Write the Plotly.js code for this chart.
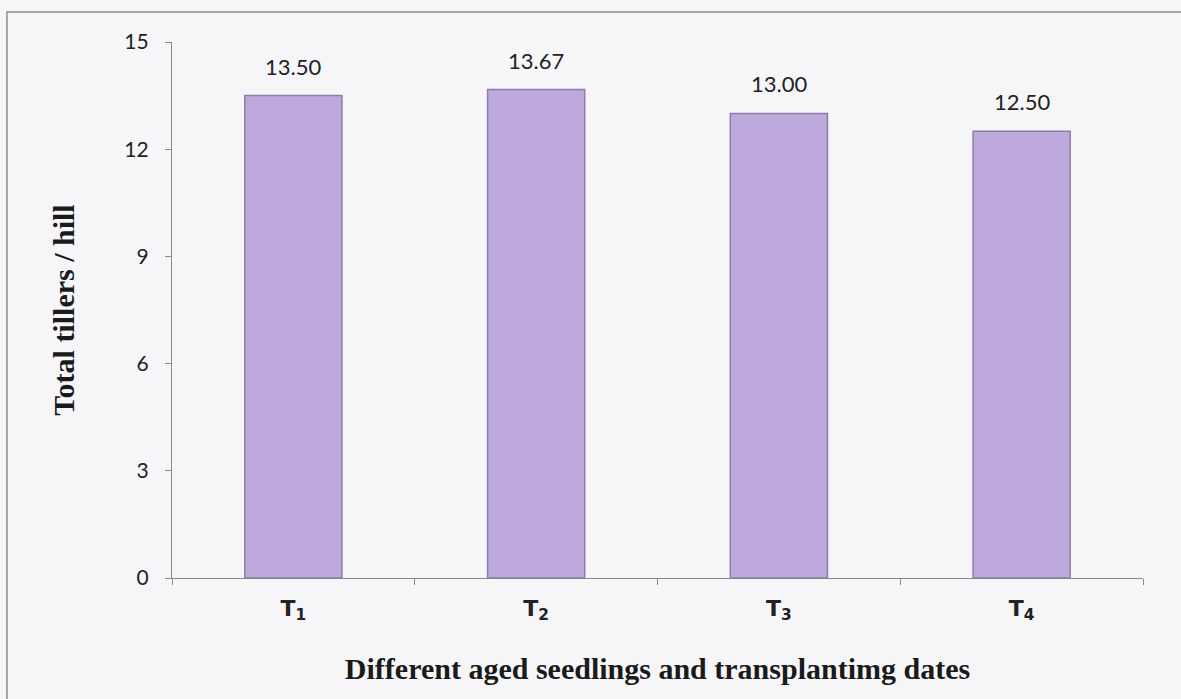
<!DOCTYPE html>
<html>
<head>
<meta charset="utf-8">
<script src="https://cdn.plot.ly/plotly-3.0.1.min.js"></script>
<style>
  html, body { margin: 0; padding: 0; background: #f6f6f9; }
  #chart { width: 1181px; height: 699px; }
</style>
</head>
<body>
<div id="chart"></div>
<script>
// Treatments (seedling age / transplanting date)
const categories = ['T<sub>1</sub>', 'T<sub>2</sub>', 'T<sub>3</sub>', 'T<sub>4</sub>'];
// Total tillers per hill
const tillers = [13.50, 13.67, 13.00, 12.50];
const yTicks = [0, 3, 6, 9, 12, 15];

const trace = {
  type: 'bar',
  x: categories,
  y: tillers,
  width: 0.4,
  marker: {
    color: '#bda9dc',
    line: { color: '#8c7bab', width: 1.5 }
  },
  hoverinfo: 'skip'
};

// value labels sitting above each bar
const valueLabels = categories.map((c, i) => ({
  x: c,
  y: tillers[i],
  xref: 'x', yref: 'y',
  text: tillers[i].toFixed(2),
  showarrow: false,
  yanchor: 'bottom',
  yshift: 14,
  font: { family: 'Lato, "Noto Sans", sans-serif', size: 22, color: '#222' }
}));

const layout = {
  width: 1181,
  height: 699,
  margin: { l: 172, r: 38, t: 42, b: 121 },
  paper_bgcolor: '#f6f6f9',
  plot_bgcolor: '#f6f6f9',
  showlegend: false,
  xaxis: {
    type: 'category',
    showline: true,
    linecolor: '#8a8a8a',
    linewidth: 1.2,
    ticks: 'outside',
    tickson: 'boundaries',
    ticklen: 6,
    tickcolor: '#8a8a8a',
    ticklabelstandoff: 10,
    showgrid: false,
    zeroline: false,
    tickfont: { family: '"DejaVu Sans", sans-serif', size: 22, color: '#222', weight: 'bold' },
    title: {
      text: '<b>Different aged seedlings and transplantimg dates</b>',
      font: { family: '"Liberation Serif", "Times New Roman", serif', size: 30, color: '#1a1a1a' },
      standoff: 34
    }
  },
  yaxis: {
    range: [0, 15],
    tickvals: yTicks,
    ticktext: yTicks.map(String),
    showline: true,
    linecolor: '#8a8a8a',
    linewidth: 1.2,
    ticks: 'outside',
    ticklen: 6,
    tickcolor: '#8a8a8a',
    ticklabelstandoff: 12,
    showgrid: false,
    zeroline: false,
    tickfont: { family: 'Lato, "Noto Sans", sans-serif', size: 21, color: '#222' },
    title: {
      text: '<b>Total tillers / hill</b>',
      font: { family: '"Liberation Serif", "Times New Roman", serif', size: 30, color: '#1a1a1a' },
      standoff: 40
    }
  },
  annotations: valueLabels,
  shapes: [{
    type: 'rect',
    xref: 'paper', yref: 'paper',
    x0: -0.17, x1: 1.2, y0: -0.5, y1: 1.056,
    line: { color: '#8f8f8f', width: 1.5 },
    fillcolor: 'rgba(0,0,0,0)',
    layer: 'below'
  }]
};

Plotly.newPlot('chart', [trace], layout, { displayModeBar: false, staticPlot: true });
</script>
</body>
</html>
